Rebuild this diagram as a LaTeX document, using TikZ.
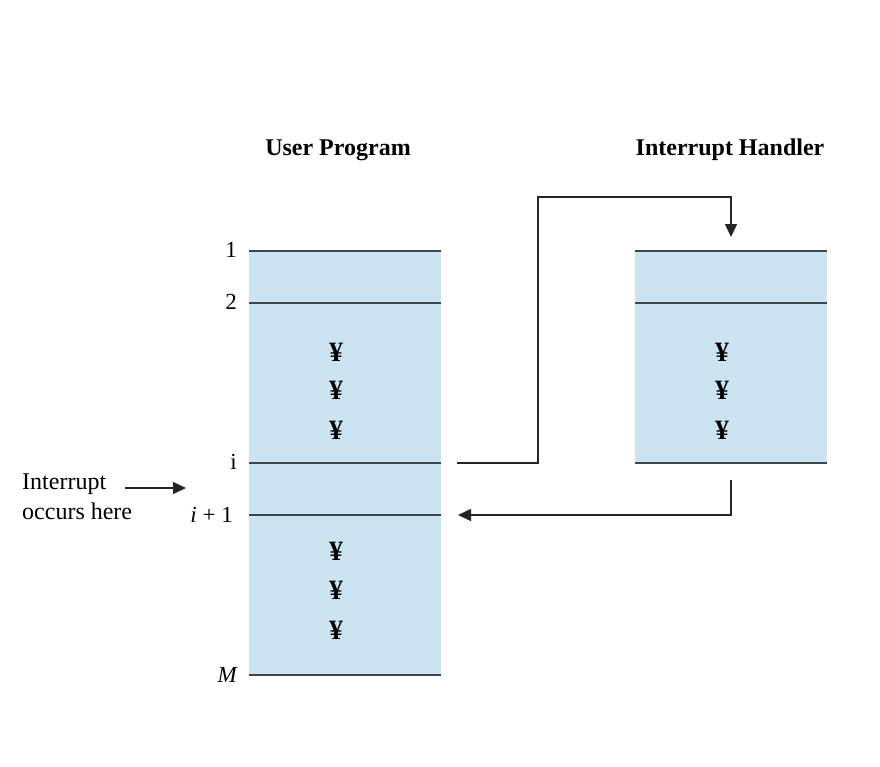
\documentclass[tikz,border=0pt]{standalone}
\usepackage{fontspec}
\setmainfont{Liberation Serif}
\usetikzlibrary{arrows.meta}
\definecolor{memfill}{HTML}{CCE4F1}
\definecolor{memline}{HTML}{3E464C}
\tikzset{
  memrow/.style={draw=memline,line width=2.2pt},
  conn/.style={draw=black!85,line width=1.4pt},
  tipped/.style={-{Triangle[length=13pt,width=12pt]}},
  lbl/.style={font=\fontsize{23}{25}\selectfont,anchor=east,inner sep=0pt},
  yen/.style={font=\fontsize{28}{30}\selectfont\bfseries,inner sep=0pt},
  title/.style={font=\fontsize{24}{26}\selectfont\bfseries,inner sep=0pt},
  note/.style={font=\fontsize{24}{30}\selectfont,align=left,inner sep=0pt,anchor=west}
}
\begin{document}
\begin{tikzpicture}[x=1pt,y=-1pt]
\useasboundingbox (0,0) rectangle (880,766);
% fills
\fill[memfill] (249,251) rectangle (441,675);
\fill[memfill] (635,251) rectangle (827,463);
% coordinates of rows
\coordinate (u1l) at (249,251); \coordinate (u1r) at (441,251);
\coordinate (u2l) at (249,303); \coordinate (u2r) at (441,303);
\coordinate (uil) at (249,463); \coordinate (uir) at (441,463);
\coordinate (ujl) at (249,515); \coordinate (ujr) at (441,515);
\coordinate (uml) at (249,675); \coordinate (umr) at (441,675);
\coordinate (h1l) at (635,251); \coordinate (h1r) at (827,251);
\coordinate (h2l) at (635,303); \coordinate (h2r) at (827,303);
\coordinate (h3l) at (635,463); \coordinate (h3r) at (827,463);
\draw[memrow] (u1l) -- (u1r);
\draw[memrow] (u2l) -- (u2r);
\draw[memrow] (uil) -- (uir);
\draw[memrow] (ujl) -- (ujr);
\draw[memrow] (uml) -- (umr);
\draw[memrow] (h1l) -- (h1r);
\draw[memrow] (h2l) -- (h2r);
\draw[memrow] (h3l) -- (h3r);
% titles
\node[title] (tu) at (338,150) {User Program};
\node[title] (th) at (730,150) {Interrupt Handler};
% row labels
\node[lbl] (l1) at (237,250) {1};
\node[lbl] (l2) at (237,302) {2};
\node[lbl] (li) at (237,462) {i};
\node[lbl] (lj) at (233,515) {\textit{i} + 1};
\node[lbl] (lm) at (238,675) {\textit{M}};
% yen marks
\node[yen] (ya1) at (336,352) {¥};
\node[yen] (ya2) at (336,390) {¥};
\node[yen] (ya3) at (336,430) {¥};
\node[yen] (yb1) at (336,551) {¥};
\node[yen] (yb2) at (336,590) {¥};
\node[yen] (yb3) at (336,630) {¥};
\node[yen] (yc1) at (722,352) {¥};
\node[yen] (yc2) at (722,390) {¥};
\node[yen] (yc3) at (722,430) {¥};
% interrupt note
\node[note] (note) at (22,497) {Interrupt\\occurs here};
\coordinate (na) at (125,488);
\coordinate (nb) at (186,488);
\draw[conn,tipped] (na) -- (nb);
% connectors
\coordinate (c1s) at (457,463);
\coordinate (c1a) at (538,463);
\coordinate (c1b) at (538,197);
\coordinate (c1c) at (731,197);
\coordinate (c1e) at (731,237);
\draw[conn,tipped] (c1s) -- (c1a) -- (c1b) -- (c1c) -- (c1e);
\coordinate (c2s) at (731,480);
\coordinate (c2a) at (731,515);
\coordinate (c2e) at (458,515);
\draw[conn,tipped] (c2s) -- (c2a) -- (c2e);
\end{tikzpicture}
\end{document}
